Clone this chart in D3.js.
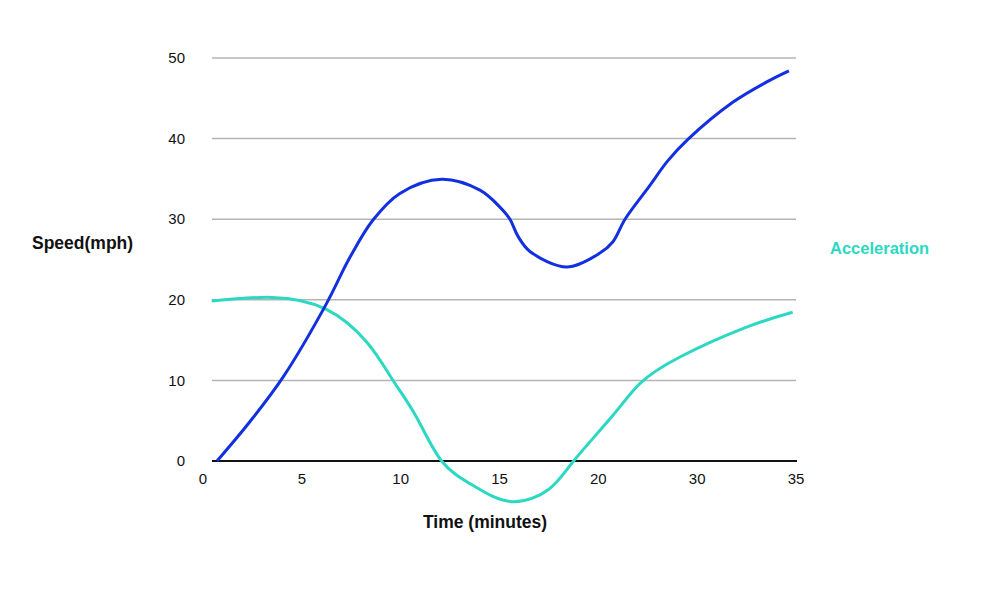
<!DOCTYPE html>
<html><head><meta charset="utf-8">
<script src="https://cdn.jsdelivr.net/npm/d3@7"></script>
<style>body{margin:0;background:#fff}svg{display:block;font-family:"Liberation Sans",Arial,sans-serif}</style>
</head><body>
<svg id="c" width="1000" height="599"></svg>
<script>
// x positions in axis units (ticks every 5 units, labelled below)
const xTickValues = [0, 5, 10, 15, 20, 25, 30];
const xTickLabels = ["0", "5", "10", "15", "20", "30", "35"];
const yTickValues = [0, 10, 20, 30, 40, 50];

const speedX = [0.71, 2.38, 4.05, 6.22, 7.44, 8.6, 9.96, 12.07, 14.01, 15.02, 15.53, 15.93, 16.54, 18.41, 20.08, 20.74, 21.35, 22.61, 23.5, 24.53, 26.8, 28.5, 29.64];
const speedY = [0, 4.9, 10.4, 19.4, 25.3, 29.9, 33.2, 34.95, 33.6, 31.5, 30, 27.9, 26, 24.07, 25.8, 27.2, 30, 34.2, 37.2, 39.9, 44.5, 47, 48.4];

const accelX = [0.44, 3.5, 6.22, 8.3, 9.6, 10.81, 12.07, 13.67, 15.61, 17.5, 18.75, 20.75, 22.1, 24.13, 27.5, 29.83];
const accelY = [19.85, 20.3, 18.85, 14.7, 10.05, 5.4, 0, -3.05, -5.05, -3.5, 0, 5.7, 9.6, 12.9, 16.6, 18.45];

const svg = d3.select("#c");
const x = d3.scaleLinear().domain([0, 30]).range([203, 796]);
const y = d3.scaleLinear().domain([0, 50]).range([461, 58]);

// grid
svg.append("g").selectAll("line").data(yTickValues.filter(d => d > 0)).join("line")
  .attr("x1", 212).attr("x2", 796)
  .attr("y1", d => y(d)).attr("y2", d => y(d))
  .attr("stroke", "#b4b4b4").attr("stroke-width", 1.5);

// baseline
svg.append("line").attr("x1", 212).attr("x2", 797).attr("y1", y(0)).attr("y2", y(0))
  .attr("stroke", "#111").attr("stroke-width", 2.2);

// y tick labels
svg.append("g").selectAll("text").data(yTickValues).join("text")
  .attr("x", 185).attr("y", d => y(d)).attr("dy", "0.35em")
  .attr("text-anchor", "end").attr("font-size", 15).attr("fill", "#111")
  .text(d => d);

// x tick labels
svg.append("g").selectAll("text").data(xTickValues).join("text")
  .attr("x", d => x(d)).attr("y", 479).attr("dy", "0.35em")
  .attr("text-anchor", "middle").attr("font-size", 15).attr("fill", "#111")
  .text((d, i) => xTickLabels[i]);

const speedLine = d3.line().x(d => x(d[0])).y(d => y(d[1])).curve(d3.curveCatmullRom.alpha(0.5));
const accelLine = d3.line().x(d => x(d[0])).y(d => y(d[1])).curve(d3.curveNatural);

svg.append("path").datum(accelX.map((v, i) => [v, accelY[i]]))
  .attr("d", accelLine).attr("fill", "none").attr("stroke", "#2cd8c2").attr("stroke-width", 3);
svg.append("path").datum(speedX.map((v, i) => [v, speedY[i]]))
  .attr("d", speedLine).attr("fill", "none").attr("stroke", "#1230e0").attr("stroke-width", 3);

// titles
svg.append("text").attr("x", 32).attr("y", 243).attr("dy", "0.35em")
  .attr("font-size", 17.5).attr("font-weight", "bold").attr("fill", "#111").text("Speed(mph)");
svg.append("text").attr("x", 485).attr("y", 522).attr("dy", "0.35em").attr("text-anchor", "middle")
  .attr("font-size", 17.5).attr("font-weight", "bold").attr("fill", "#111").text("Time (minutes)");
svg.append("text").attr("x", 830).attr("y", 248).attr("dy", "0.35em")
  .attr("font-size", 16.5).attr("font-weight", "bold").attr("fill", "#2cd8c2").text("Acceleration");
</script>
</body></html>
